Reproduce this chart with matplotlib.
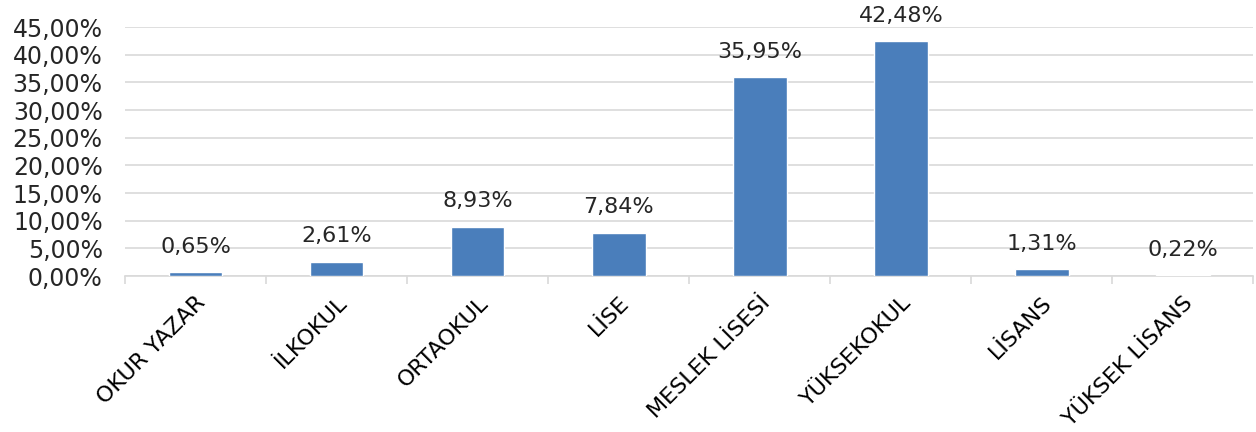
import matplotlib
matplotlib.use("Agg")
import matplotlib.pyplot as plt
import numpy as np

categories = ["OKUR YAZAR", "İLKOKUL", "ORTAOKUL", "LİSE", "MESLEK LİSESİ",
              "YÜKSEKOKUL", "LİSANS", "YÜKSEK LİSANS"]
values = [0.65, 2.61, 8.93, 7.84, 35.95, 42.48, 1.31, 0.22]
yticks = [0, 5, 10, 15, 20, 25, 30, 35, 40, 45]

plt.rcParams['font.family'] = ['DejaVu Sans']
txt = '#262626'
grid = '#d9d9d9'

fig = plt.figure(figsize=(12.56, 4.32), dpi=100)
ax = fig.add_axes([0.0995, 0.361, 0.8985, 0.5765])

x = np.arange(len(categories))
bars = ax.bar(x, values, width=0.38, color='#4A7EBB', edgecolor='white', linewidth=1, zorder=3)

for xi, v in zip(x, values):
    ax.annotate(f"{v:.2f}%".replace('.', ','), (xi, v), xytext=(0, 11),
                textcoords='offset points', ha='center', va='bottom',
                fontsize=16, color=txt)

ax.set_xlim(-0.5, len(categories) - 0.5)
ax.set_ylim(0, 45)
ax.set_yticks(yticks)
ax.set_yticklabels([f"{t:.2f}%".replace('.', ',') for t in yticks], fontsize=17, color=txt)
ax.yaxis.grid(True, color=grid, linewidth=1.2, zorder=0)
ax.set_axisbelow(True)

ax.set_xticks(x)
ax.set_xticklabels(categories, rotation=45, ha='right', rotation_mode='anchor',
                   fontsize=16, color='black')
ax.set_xticks(np.arange(-0.5, len(categories)), minor=True)
ax.tick_params(axis='x', which='major', length=0, pad=12)
ax.tick_params(axis='x', which='minor', length=6, color=grid, width=1.2)
ax.tick_params(axis='y', length=0, pad=16)

for s in ['top', 'right', 'left']:
    ax.spines[s].set_visible(False)
ax.spines['bottom'].set_color(grid)
ax.spines['bottom'].set_linewidth(1.2)

plt.savefig('out.png', dpi=100)
